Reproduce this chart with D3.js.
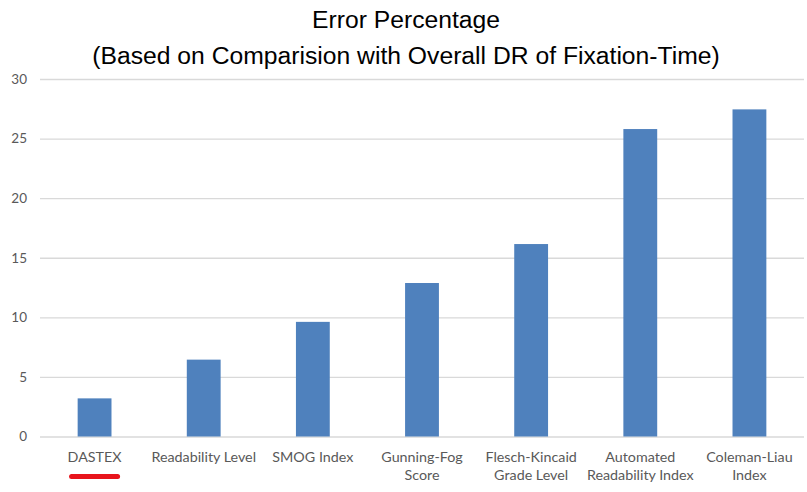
<!DOCTYPE html>
<html>
<head>
<meta charset="utf-8">
<script src="https://cdn.jsdelivr.net/npm/d3@7"></script>
<style>
  body { margin: 0; background: #fff; }
  svg { display: block; }
</style>
</head>
<body>
<div id="chart"></div>
<script>
// chart data
const categories = ["DASTEX", "Readability Level", "SMOG Index", "Gunning-Fog Score",
  "Flesch-Kincaid Grade Level", "Automated Readability Index", "Coleman-Liau Index"];
const labelLines = [
  ["DASTEX"],
  ["Readability Level"],
  ["SMOG Index"],
  ["Gunning-Fog", "Score"],
  ["Flesch-Kincaid", "Grade Level"],
  ["Automated", "Readability Index"],
  ["Coleman-Liau", "Index"]
];
const errorPct = [3.2, 6.45, 9.62, 12.88, 16.15, 25.8, 27.45];
const yTicks = [0, 5, 10, 15, 20, 25, 30];
const titleLines = ["Error Percentage", "(Based on Comparision with Overall DR of Fixation-Time)"];

const width = 807, height = 492;
const margin = { top: 79, right: 3, bottom: 55, left: 40 };

const svg = d3.select("#chart")
  .append("svg")
  .attr("width", width)
  .attr("height", height);

const x = d3.scaleBand()
  .domain(categories)
  .range([margin.left, width - margin.right])
  .paddingInner(0.69)
  .paddingOuter(0.345);

const y = d3.scaleLinear()
  .domain([0, 30])
  .range([height - margin.bottom - 0.5, margin.top]);

// title
svg.append("g")
  .selectAll("text")
  .data(titleLines)
  .enter()
  .append("text")
  .attr("x", 406)
  .attr("y", (d, i) => 28 + i * 35.5)
  .attr("text-anchor", "middle")
  .attr("font-family", "Liberation Sans, Arial, sans-serif")
  .attr("font-size", 24.7)
  .attr("fill", "#000")
  .text(d => d);

// gridlines + y labels
const yAxis = svg.append("g")
  .attr("transform", `translate(${margin.left},0)`)
  .call(d3.axisLeft(y).tickValues(yTicks)
    .tickSize(-(width - margin.left - margin.right))
    .tickPadding(13));
yAxis.select(".domain").remove();
yAxis.selectAll(".tick line").attr("stroke", "#d9d9d9").attr("stroke-width", 1.3);
yAxis.selectAll(".tick text")
  .attr("font-family", "Lato, Carlito, sans-serif")
  .attr("font-size", 13.5)
  .attr("fill", "#595959");

// bars
svg.append("g")
  .selectAll("rect")
  .data(errorPct)
  .enter()
  .append("rect")
  .attr("x", (d, i) => x(categories[i]))
  .attr("y", d => y(d))
  .attr("width", x.bandwidth())
  .attr("height", d => y(0) - y(d))
  .attr("fill", "#4f81bd");

// x labels
const xLabels = svg.append("g")
  .selectAll("text")
  .data(categories)
  .enter()
  .append("text")
  .attr("x", d => x(d) + x.bandwidth() / 2)
  .attr("y", 462)
  .attr("text-anchor", "middle")
  .attr("font-family", "Lato, Carlito, sans-serif")
  .attr("font-size", 14.3)
  .attr("fill", "#595959");

xLabels.selectAll("tspan")
  .data((d, i) => labelLines[i])
  .enter()
  .append("tspan")
  .attr("x", function () { return d3.select(this.parentNode).attr("x"); })
  .attr("dy", (d, i) => i === 0 ? 0 : 18)
  .text(d => d);

// red underline under DASTEX
const cx = x(categories[0]) + x.bandwidth() / 2;
svg.append("line")
  .attr("x1", cx - 23)
  .attr("x2", cx + 23)
  .attr("y1", 476.5)
  .attr("y2", 476.5)
  .attr("stroke", "#e8141c")
  .attr("stroke-width", 5)
  .attr("stroke-linecap", "round");
</script>
</body>
</html>
